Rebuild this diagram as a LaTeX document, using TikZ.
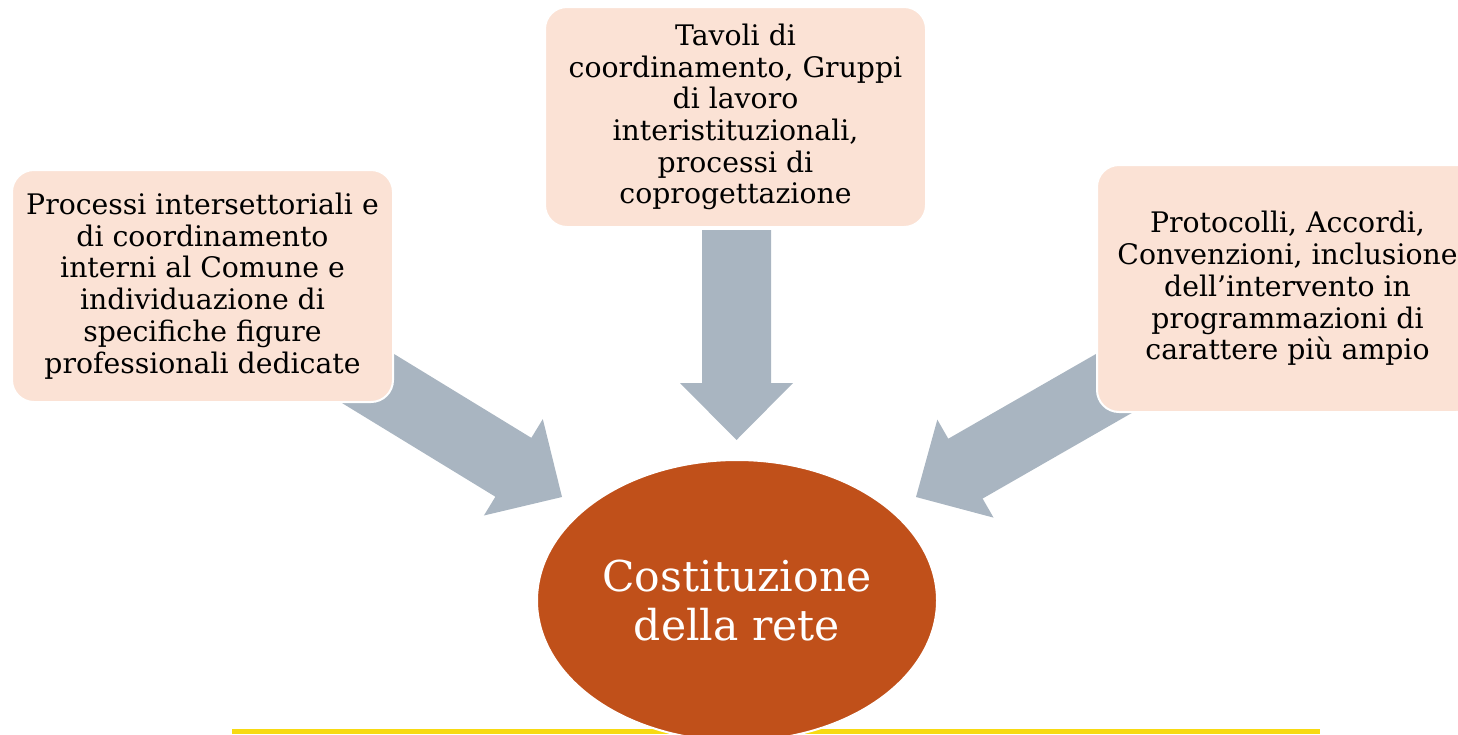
\documentclass[tikz,border=0pt]{standalone}
\usepackage{fontspec}
\setmainfont{DejaVu Serif}
\usetikzlibrary{calc,shapes.geometric}
\definecolor{boxfill}{HTML}{FBE2D5}
\definecolor{arrowfill}{HTML}{A9B5C1}
\definecolor{hubfill}{HTML}{C0501A}
\definecolor{lineyellow}{HTML}{F7DA12}
\tikzset{
  infobox/.style={draw=white, line width=2pt, fill=boxfill, rounded corners=22pt,
    minimum width=381pt, align=center, inner sep=0pt,
    font=\fontsize{28.3}{31.7}\selectfont, text=black},
  hub/.style={ellipse, draw=white, line width=2pt, fill=hubfill, minimum width=400pt,
    minimum height=281pt, align=center, inner sep=0pt, text=white,
    font=\fontsize{42.5}{49}\selectfont}
}
\newcommand\blockarrow[2]{%
  \coordinate (hb) at ($(#2)!57pt!(#1)$);
  \fill[arrowfill] ($(#1)!34.5pt!90:(#2)$) -- ($(hb)!34.5pt!90:(#2)$) -- ($(hb)!56.5pt!90:(#2)$)
    -- (#2) -- ($(hb)!56.5pt!-90:(#2)$) -- ($(hb)!34.5pt!-90:(#2)$) -- ($(#1)!34.5pt!-90:(#2)$) -- cycle;}
\begin{document}
\begin{tikzpicture}[x=1pt,y=-1pt]
\useasboundingbox (0,0) rectangle (1458,734);
\begin{scope}
\clip (0,0) rectangle (1458,734);
% anchors for arrows
\coordinate (lstart) at (323,351);
\coordinate (ltip) at (562,497);
\coordinate (rstart) at (1160,357);
\coordinate (rtip) at (916,497);
\coordinate (ttip) at (736.5,440);
\coordinate (tstart) at (736.5,230);
\blockarrow{lstart}{ltip}
\blockarrow{rstart}{rtip}
\blockarrow{tstart}{ttip}
% boxes
\node[infobox, minimum height=232pt] (left) at (202.5,286) {Processi intersettoriali e\\di coordinamento\\interni al Comune e\\individuazione di\\specifiche figure\\professionali dedicate};
\node[infobox, minimum height=220pt] (top) at (735.5,117) {Tavoli di\\coordinamento, Gruppi\\di lavoro\\interistituzionali,\\processi di\\coprogettazione};
\node[infobox, minimum height=247pt] (right) at (1287.5,288.5) {Protocolli, Accordi,\\Convenzioni, inclusione\\dell’intervento in\\programmazioni di\\carattere più ampio};
% yellow line
\fill[lineyellow] (232,728.5) rectangle (1320,734);
% hub
\node[hub] (hubnode) at (737,600.5) {Costituzione\\della rete};
\end{scope}
\end{tikzpicture}
\end{document}
